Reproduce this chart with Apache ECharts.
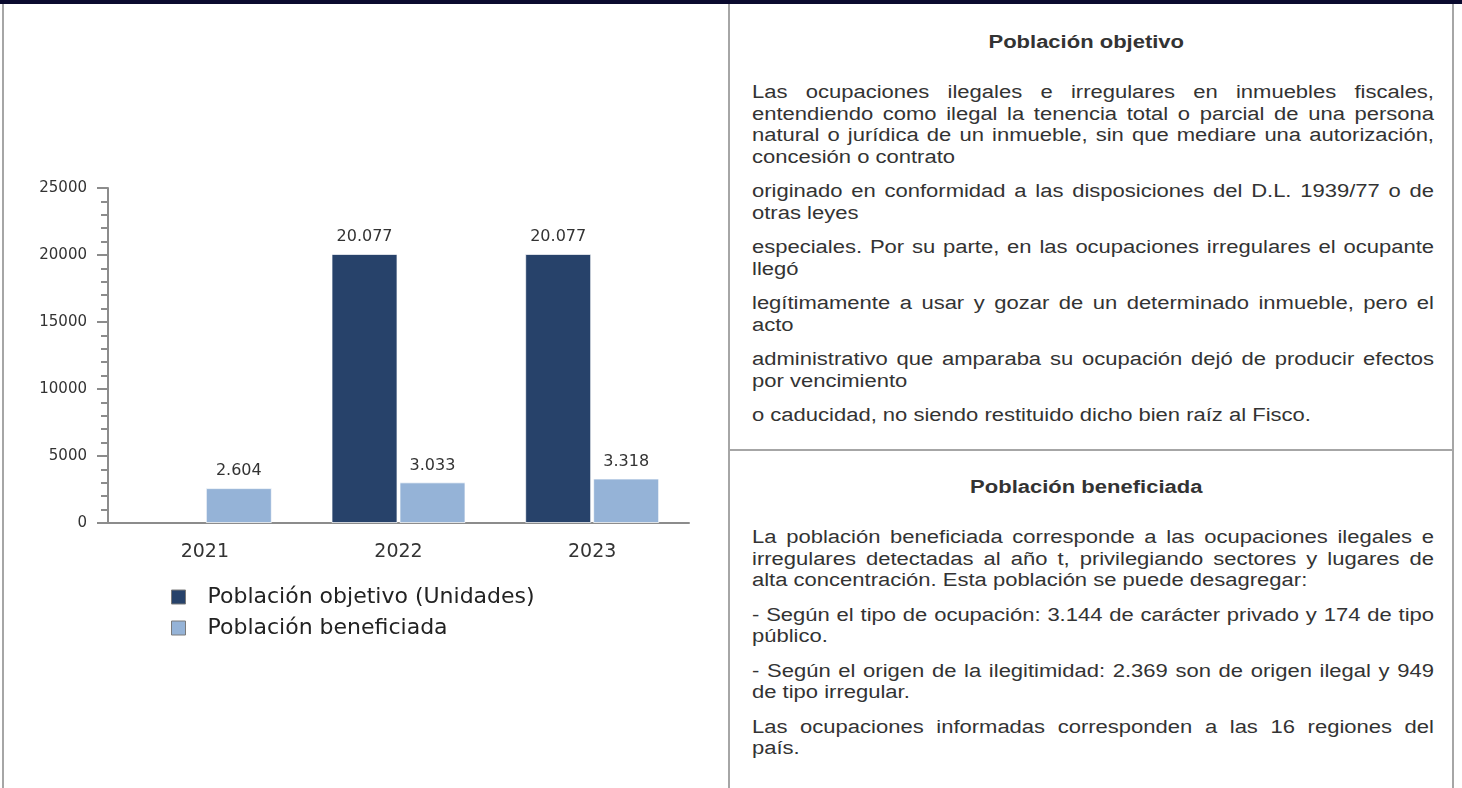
<!DOCTYPE html>
<html>
<head>
<meta charset="utf-8">
<script src="https://cdn.jsdelivr.net/npm/echarts@6/dist/echarts.min.js"></script>
<style>
  html, body { margin: 0; padding: 0; background: #ffffff; width: 1462px; height: 788px; overflow: hidden; }
  #topbar { position: absolute; left: 0; top: 0; width: 1462px; height: 4px; background: #0a0a2e; }
  .vline { position: absolute; width: 2px; background: #a6a6a6; }
  .hline { position: absolute; height: 2px; background: #a6a6a6; }
  #chart { position: absolute; left: 0; top: 0; width: 728px; height: 788px; }
  .panel { position: absolute; left: 752px; width: 558px; transform: scaleX(1.2222); transform-origin: 0 0;
           font-family: "Liberation Sans", Arial, sans-serif; color: #333; font-size: 18px; line-height: 21.5px; }
  .title { font-weight: bold; text-align: center; position: relative; left: -5.5px; }
  .g { text-align: justify; }
  .g + .g { margin-top: 13px; }
</style>
</head>
<body>
<div id="chart"></div>
<div id="topbar"></div>
<div class="vline" style="left:2px; top:4px; height:784px;"></div>
<div class="vline" style="left:728px; top:4px; height:784px;"></div>
<div class="vline" style="left:1452px; top:4px; height:784px;"></div>
<div class="hline" style="left:730px; top:449px; width:722px;"></div>

<div class="panel" style="top:32px;"><div class="title">Población objetivo</div></div>
<div class="panel" style="top:82px;">
  <div class="g">Las ocupaciones ilegales e irregulares en inmuebles fiscales, entendiendo como ilegal la tenencia total o parcial de una persona natural o jurídica de un inmueble, sin que mediare una autorización, concesión o contrato</div>
  <div class="g">originado en conformidad a las disposiciones del D.L. 1939/77 o de otras leyes</div>
  <div class="g">especiales. Por su parte, en las ocupaciones irregulares el ocupante llegó</div>
  <div class="g">legítimamente a usar y gozar de un determinado inmueble, pero el acto</div>
  <div class="g">administrativo que amparaba su ocupación dejó de producir efectos por vencimiento</div>
  <div class="g">o caducidad, no siendo restituido dicho bien raíz al Fisco.</div>
</div>

<div class="panel" style="top:477px;"><div class="title">Población beneficiada</div></div>
<div class="panel" style="top:527px;">
  <div class="g">La población beneficiada corresponde a las ocupaciones ilegales e irregulares detectadas al año t, privilegiando sectores y lugares de alta concentración. Esta población se puede desagregar:</div>
  <div class="g">- Según el tipo de ocupación: 3.144 de carácter privado y 174 de tipo público.</div>
  <div class="g">- Según el origen de la ilegitimidad: 2.369 son de origen ilegal y 949 de tipo irregular.</div>
  <div class="g">Las ocupaciones informadas corresponden a las 16 regiones del país.</div>
</div>

<script>
const categories = ['2021', '2022', '2023'];
const poblacionObjetivo = [null, 20077, 20077];
const poblacionBeneficiada = [2604, 3033, 3318];
const seriesNames = ['Población objetivo (Unidades)', 'Población beneficiada'];
const yTicks = { min: 0, max: 25000, interval: 5000 };

const FONT = '"DejaVu Sans", Verdana, sans-serif';
const AXIS_COLOR = '#8c8c8c';

function fmtThousands(v) {
  return String(Math.round(v)).replace(/\B(?=(\d{3})+(?!\d))/g, '.');
}

const chart = echarts.init(document.getElementById('chart'), null, { renderer: 'canvas' });
chart.setOption({
  animation: false,
  backgroundColor: 'transparent',
  grid: { left: 108, top: 188, width: 581, height: 335 },
  legend: {
    orient: 'vertical',
    left: 171,
    top: 586,
    padding: 0,
    itemWidth: 14,
    itemHeight: 14,
    itemGap: 9,
    icon: 'rect',
    itemStyle: { borderColor: '#7a7a7a', borderWidth: 1 },
    textStyle: { fontFamily: FONT, fontSize: 22, lineHeight: 22, color: '#222', padding: [0, 0, 0, 17] },
    data: seriesNames
  },
  xAxis: {
    type: 'category',
    data: categories,
    axisLine: { lineStyle: { color: AXIS_COLOR, width: 2 } },
    axisTick: { show: false },
    axisLabel: { fontFamily: FONT, fontSize: 19, color: '#333', margin: 20 },
    splitLine: { show: false }
  },
  yAxis: {
    type: 'value',
    min: yTicks.min,
    max: yTicks.max,
    interval: yTicks.interval,
    axisLine: { show: true, lineStyle: { color: AXIS_COLOR, width: 2 } },
    axisTick: { show: true, length: 11, lineStyle: { color: AXIS_COLOR, width: 2 } },
    minorTick: { show: true, splitNumber: 5, length: 7, lineStyle: { color: AXIS_COLOR, width: 2 } },
    splitLine: { show: false },
    axisLabel: { fontFamily: FONT, fontSize: 15, color: '#333', margin: 21, formatter: v => String(v) }
  },
  series: [
    {
      name: seriesNames[0],
      type: 'bar',
      data: poblacionObjetivo,
      barWidth: 66,
      barGap: '3%',
      itemStyle: { color: '#27426a', borderColor: 'rgba(255,255,255,0.7)', borderWidth: 1 },
      label: { show: true, position: 'top', distance: 9, fontFamily: FONT, fontSize: 16, color: '#333',
               formatter: p => (p.value == null ? '' : fmtThousands(p.value)) }
    },
    {
      name: seriesNames[1],
      type: 'bar',
      data: poblacionBeneficiada,
      barWidth: 66,
      barGap: '3%',
      itemStyle: { color: '#95b3d7', borderColor: 'rgba(255,255,255,0.7)', borderWidth: 1 },
      label: { show: true, position: 'top', distance: 9, fontFamily: FONT, fontSize: 16, color: '#333',
               formatter: p => fmtThousands(p.value) }
    }
  ]
});
</script>
</body>
</html>
